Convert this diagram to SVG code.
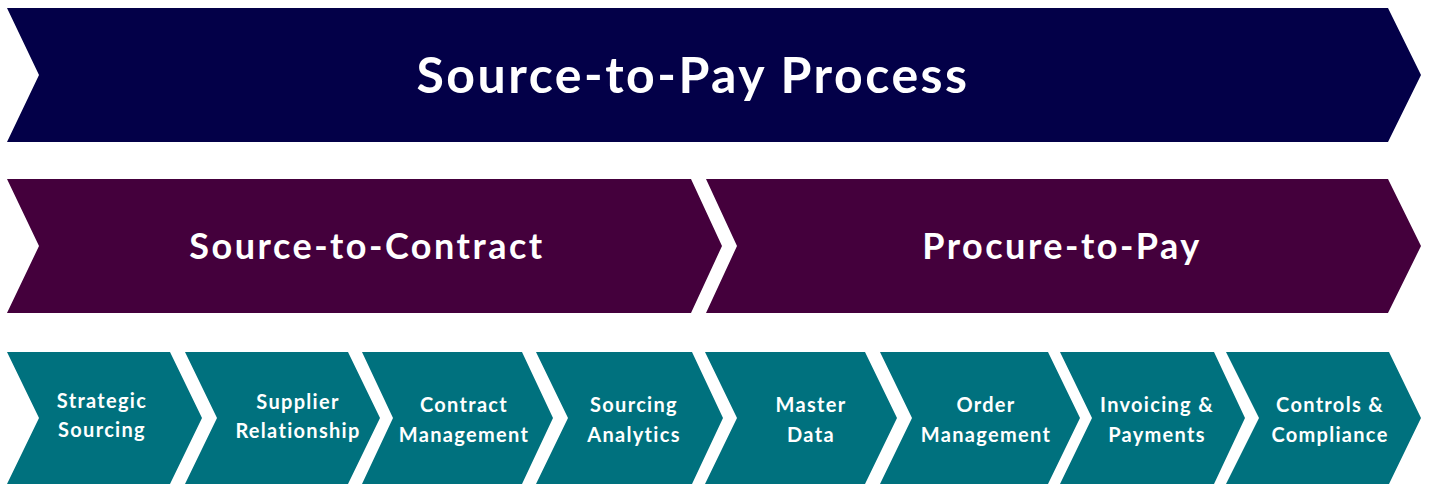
<svg xmlns="http://www.w3.org/2000/svg" width="1432" height="485" viewBox="0 0 1432 485">
<style>
.top{fill:#030048}
.mid{fill:#44003C}
.bot{fill:#00717E}
text{font-family:Lato,"Open Sans","Liberation Sans",sans-serif;font-weight:bold;fill:#ffffff;text-anchor:middle}
.t1{font-size:50px;letter-spacing:2.5px}
.t2{font-size:36px;letter-spacing:2.5px}
.t3{font-size:20px;letter-spacing:1.3px}
</style>
<rect width="1432" height="485" fill="#ffffff"/>
<g id="source-to-pay">
<polygon class="top" points="7,8 1388,8 1421,75 1388,142 7,142 39,75"/>
<text class="t1" x="693" y="93">Source-to-Pay Process</text>
</g>
<g id="source-to-contract">
<polygon class="mid" points="7,179 691,179 722,246 691,313 7,313 39,246"/>
<text class="t2" x="367" y="259">Source-to-Contract</text>
</g>
<g id="procure-to-pay">
<polygon class="mid" points="706,179 1388,179 1421,246 1388,313 706,313 737,246"/>
<text class="t2" x="1062" y="259">Procure-to-Pay</text>
</g>
<g id="strategic-sourcing">
<polygon class="bot" points="7,352 170,352 202,418 170,484 7,484 39,418"/>
<text class="t3" x="102" y="408">Strategic</text>
<text class="t3" x="102" y="437">Sourcing</text>
</g>
<g id="supplier-relationship">
<polygon class="bot" points="185,352 348,352 380,418 348,484 185,484 217,418"/>
<text class="t3" x="298" y="409">Supplier</text>
<text class="t3" x="298" y="438">Relationship</text>
</g>
<g id="contract-management">
<polygon class="bot" points="362,352 522,352 553,418 522,484 362,484 393,418"/>
<text class="t3" x="464" y="412">Contract</text>
<text class="t3" x="464" y="442">Management</text>
</g>
<g id="sourcing-analytics">
<polygon class="bot" points="536,352 692,352 723,418 692,484 536,484 568,418"/>
<text class="t3" x="634" y="412">Sourcing</text>
<text class="t3" x="634" y="442">Analytics</text>
</g>
<g id="master-data">
<polygon class="bot" points="705,352 865,352 897,418 865,484 705,484 737,418"/>
<text class="t3" x="811" y="412">Master</text>
<text class="t3" x="811" y="442">Data</text>
</g>
<g id="order-management">
<polygon class="bot" points="880,352 1048,352 1080,418 1048,484 880,484 912,418"/>
<text class="t3" x="986" y="412">Order</text>
<text class="t3" x="986" y="442">Management</text>
</g>
<g id="invoicing-payments">
<polygon class="bot" points="1060,352 1214,352 1245,418 1214,484 1060,484 1092,418"/>
<text class="t3" x="1157" y="412">Invoicing &amp;</text>
<text class="t3" x="1157" y="442">Payments</text>
</g>
<g id="controls-compliance">
<polygon class="bot" points="1226,352 1389,352 1421,418 1389,484 1226,484 1259,418"/>
<text class="t3" x="1330" y="412">Controls &amp;</text>
<text class="t3" x="1330" y="442">Compliance</text>
</g>
<g id="connectors"></g>
</svg>
